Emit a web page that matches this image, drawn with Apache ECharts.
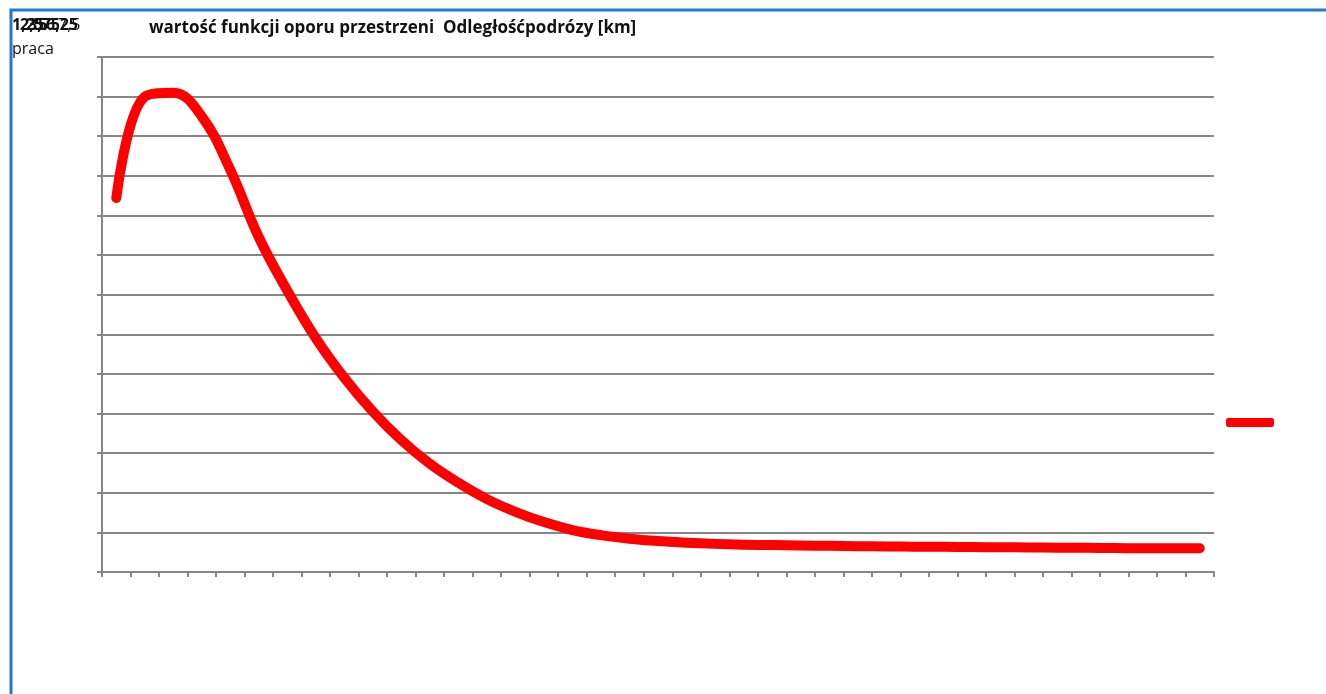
<!DOCTYPE html>
<html>
<head>
<meta charset="utf-8">
<script src="https://cdn.jsdelivr.net/npm/echarts@6/dist/echarts.min.js"></script>
<style>
  html, body { margin: 0; padding: 0; background: #fff; }
  #chart { width: 1326px; height: 694px; }
</style>
</head>
<body>
<div id="chart"></div>
<script>
// kategorie (odległość) - osie bez podpisów
let categories = []
for (let i = 1; i <= 39; i++) categories.push(String(i))

// wartości
let values = [
  9.44, 12.0, 12.1, 11.5, 10.15, 8.45, 7.1, 5.9, 4.9, 4.05,
  3.33, 2.73, 2.25, 1.84, 1.52, 1.26, 1.06, 0.93, 0.84, 0.78,
  0.74, 0.71, 0.69, 0.68, 0.67, 0.66, 0.65, 0.645, 0.64, 0.635,
  0.63, 0.625, 0.62, 0.615, 0.61, 0.605, 0.6, 0.6, 0.6
]

// nakładające się etykiety w lewym górnym rogu
let cornerLabels = ['1,25', '2,5', '3,75', '5', '6,25', '7,5']
let cornerOffsets = [12, 20, 28, 38, 46, 58]

let myChart = echarts.init(document.getElementById('chart'))

let gray = '#868686'

myChart.setOption({
  animation: false,
  title: {
    text: 'wartość funkcji oporu przestrzeni  Odległośćpodrózy [km]',
    left: 144,
    top: 15,
    textStyle: {
      fontFamily: 'Open Sans',
      fontWeight: 'bold',
      fontSize: 17,
      color: '#111'
    }
  },
  legend: {
    left: 1221,
    top: 413,
    data: [{ name: 'opór', icon: 'roundRect' }],
    itemWidth: 48,
    itemHeight: 9,
    formatter: function () { return '' },
    selectedMode: false
  },
  grid: {
    left: 102,
    top: 57,
    right: 112,
    bottom: 122
  },
  xAxis: {
    type: 'category',
    data: categories,
    boundaryGap: true,
    axisLine: { lineStyle: { color: gray, width: 2 } },
    axisTick: { show: true, length: 5, lineStyle: { color: gray, width: 2 } },
    axisLabel: { show: false }
  },
  yAxis: {
    type: 'value',
    min: 0,
    max: 13,
    interval: 1,
    axisLine: { show: true, lineStyle: { color: gray, width: 2 } },
    axisTick: { show: true, length: 5, lineStyle: { color: gray, width: 2 } },
    axisLabel: { show: false },
    splitLine: { lineStyle: { color: gray, width: 2 } }
  },
  series: [
    {
      name: 'opór',
      type: 'line',
      data: values,
      smooth: 0.4,
      showSymbol: false,
      symbol: 'none',
      itemStyle: { color: '#ff0000' },
      lineStyle: { color: '#ff0000', width: 10, cap: 'round', join: 'round' }
    }
  ],
  graphic: [
    {
      type: 'polyline',
      shape: { points: [[11, 694], [11, 10], [1326, 10]] },
      style: { stroke: '#1f78d1', lineWidth: 3, fill: null }
    },
    {
      type: 'text',
      left: 12,
      top: 41,
      style: { text: 'praca', fontFamily: 'Open Sans', fontSize: 16, fill: '#111' }
    }
  ].concat(cornerLabels.map(function (t, i) {
    let last = i === cornerLabels.length - 1
    return {
      type: 'text',
      left: cornerOffsets[i],
      top: 17,
      z: last ? 10 : 5,
      style: {
        text: t,
        fontFamily: 'Open Sans',
        fontSize: 16,
        fill: '#111',
        fontWeight: last ? 'normal' : 'bold'
      }
    }
  }))
})
</script>
</body>
</html>
